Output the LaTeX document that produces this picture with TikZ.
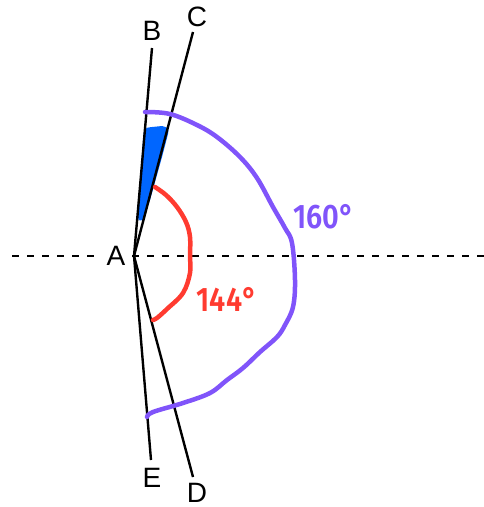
\documentclass[tikz,border=0pt]{standalone}
\usepackage{fontspec}
\setmainfont{Liberation Sans}
\newfontfamily\handfont{Fira Sans}[UprightFont=* SemiBold]
\definecolor{arcpurple}{RGB}{128,84,250}
\definecolor{arcred}{RGB}{255,59,48}
\definecolor{wedgeblue}{RGB}{0,102,255}
\begin{document}
\begin{tikzpicture}[x=1pt,y=-1pt,
  ray/.style={line width=2.4pt,black},
  ptlabel/.style={font=\fontsize{28}{28}\selectfont,inner sep=0pt,text depth=0pt},
  handlabel/.style={font=\handfont\fontsize{34}{34}\selectfont,inner sep=0pt},
  arcline/.style={line width=4.5pt,line cap=round,line join=round}]
\useasboundingbox (0,0) rectangle (484,507);
\coordinate (A) at (134,256);
\coordinate (Bend) at (152,48);
\coordinate (Cend) at (193,32);
\coordinate (Eend) at (151,460);
\coordinate (Dend) at (193,477);
\coordinate (dashL) at (12,256);
\coordinate (dashR) at (484,256);
% dashed horizontal
\draw[line width=2.4pt,dash pattern=on 7pt off 8pt] (dashL) -- (dashR);
% blue wedge
\fill[wedgeblue,line join=round] (143,140) .. controls (144,128) .. (152,127) -- (162,126) .. controls (169,128) .. (168,134) -- (162,157) -- (150,200) -- (143,220) .. controls (138,221) .. (138,213) -- cycle;
% rays
\draw[ray] (A) -- (Bend);
\draw[ray] (A) -- (Cend);
\draw[ray] (A) -- (Eend);
\draw[ray] (A) -- (Dend);
% purple arc
\draw[arcline,arcpurple] plot[smooth,tension=0.6] coordinates {(145,112) (170,114) (197,125) (217,137) (240,157) (257,178) (273,207) (285,228) (292,243) (295,280) (293,307) (285,325) (277,337) (260,352) (243,368) (227,380) (210,393) (183,403) (153,412) (147,417)};
% red arc
\draw[arcline,arcred] plot[smooth,tension=0.6] coordinates {(155,187) (166,195) (177,207) (186,222) (190,237) (190,256) (190,273) (183,293) (167,309) (157,318) (153,320)};
% labels
\node[ptlabel] (Bl) at (152,31) {B};
\node[ptlabel] (Cl) at (197,17) {C};
\node[ptlabel,fill=white,inner xsep=5pt,inner ysep=2pt] (Al) at (116,256) {A};
\node[ptlabel] (El) at (152,478) {E};
\node[ptlabel] (Dl) at (197,493) {D};
\node[handlabel,text=arcpurple,xscale=0.85] (l160) at (324,217) {160°};
\node[handlabel,text=arcred,xscale=0.85] (l144) at (227,299) {144°};
\end{tikzpicture}
\end{document}
